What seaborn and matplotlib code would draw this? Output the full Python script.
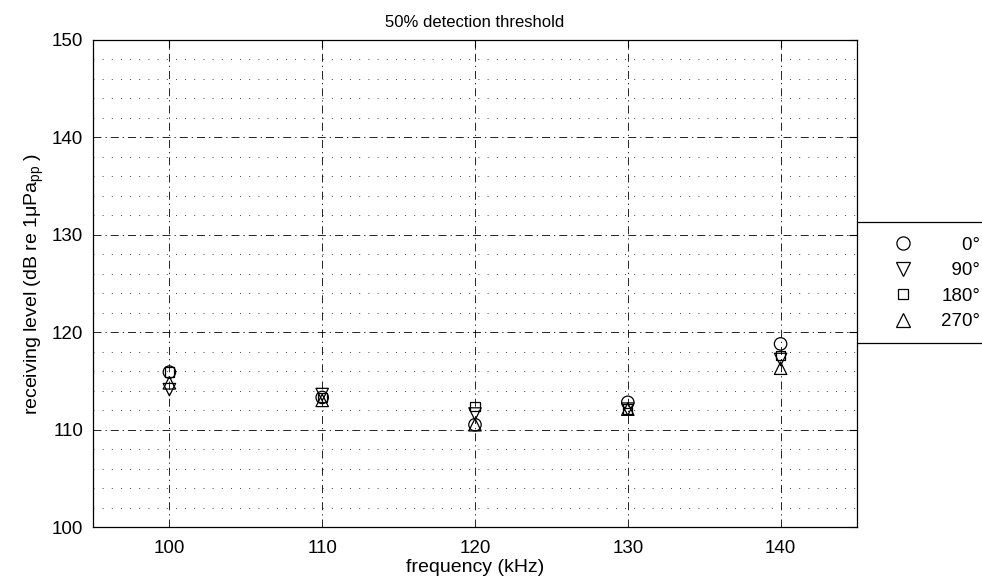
import pandas as pd
import numpy as np
import seaborn as sns
import matplotlib.pyplot as plt
from matplotlib.lines import Line2D
from matplotlib.ticker import MultipleLocator


# data
freqs = [100, 110, 120, 130, 140]
level_0 = [115.9, 113.3, 110.5, 112.8, 118.8]
level_90 = [114.1, 113.6, 111.6, 112.1, 117.2]
level_180 = [115.9, 113.3, 112.4, 112.1, 117.6]
level_270 = [114.8, 113.0, 110.5, 112.1, 116.3]
angles = ["0°", "90°", "180°", "270°"]
marker_map = {"0°": "o", "90°": "v", "180°": "s", "270°": "^"}

df = pd.DataFrame({
    "freq": freqs * 4,
    "level": level_0 + level_90 + level_180 + level_270,
    "angle": np.repeat(angles, len(freqs)),
})

sns.set_style("white")
plt.rcParams["font.family"] = ["Liberation Sans", "DejaVu Sans"]
plt.rcParams["text.color"] = "black"
plt.rcParams["axes.labelcolor"] = "black"
plt.rcParams["xtick.color"] = "black"
plt.rcParams["ytick.color"] = "black"

fig = plt.figure(figsize=(9.82, 5.87), dpi=100)
ax = fig.add_axes([0.0947, 0.1022, 0.778, 0.8297])

sizes = {"0°": 80, "90°": 80, "180°": 45, "270°": 80}
for a in angles:
    sub = df[df["angle"] == a]
    sns.scatterplot(data=sub, x="freq", y="level", marker=marker_map[a],
                    s=sizes[a], facecolor="none", edgecolor="black",
                    linewidth=0.9, ax=ax, legend=False, zorder=3)

ax.set_xlim(95, 145)
ax.set_ylim(100, 150)
ax.xaxis.set_major_locator(MultipleLocator(10))
ax.yaxis.set_major_locator(MultipleLocator(10))
ax.yaxis.set_minor_locator(MultipleLocator(2))

ax.grid(which="major", axis="both", color="black", linestyle="-.",
        linewidth=0.6, dashes=(9.6, 4.8, 1.5, 4.8))
ax.grid(which="minor", axis="y", color="black", linestyle=":",
        linewidth=0.6, dashes=(1, 10))

ax.tick_params(which="major", direction="in", length=6, top=True,
               right=True, labelsize=13.5, width=0.8)
ax.tick_params(axis="x", pad=9)
ax.tick_params(axis="y", pad=7)
ax.tick_params(which="minor", direction="in", length=0)
for sp in ax.spines.values():
    sp.set_color("black")
    sp.set_linewidth(0.9)

ax.set_xlabel("frequency (kHz)", fontsize=14, labelpad=2)
ax.set_ylabel(r"receiving level (dB re 1$\mathregular{\mu}$Pa$_{\mathregular{pp}}$ )",
              fontsize=14, labelpad=4)
ax.set_title("50% detection threshold", fontsize=12, pad=9)

# legend: right aligned labels, frame open to the figure edge like the original
pads = {"0°": "    ", "90°": "  ", "180°": "", "270°": ""}
handles = [Line2D([], [], marker=marker_map[a], linestyle="none",
                  markerfacecolor="none", markeredgecolor="black",
                  markersize=9.5 if a != "180°" else 7, markeredgewidth=0.9)
           for a in angles]
labels = [pads[a] + a for a in angles]
leg = ax.legend(handles, labels, loc="center left", bbox_to_anchor=(1.0, 0.5),
                fontsize=13.5, frameon=False, handletextpad=1.3,
                borderpad=0.0, borderaxespad=1.7, labelspacing=0.45,
                handlelength=1.5)

leg_top = 1 - 222 / 587
leg_bot = 1 - 343 / 587
x0 = ax.get_position().x1
for yy in (leg_top, leg_bot):
    fig.add_artist(Line2D([x0, 1.0], [yy, yy], color="black", linewidth=0.9,
                          transform=fig.transFigure))

plt.savefig("out.png", dpi=100)
